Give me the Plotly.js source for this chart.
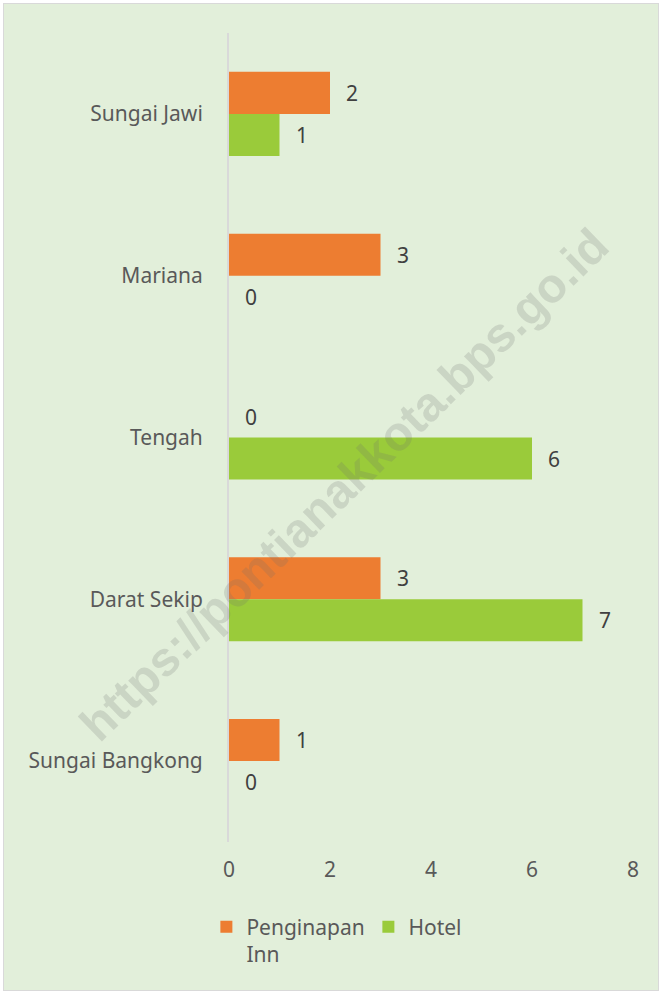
<!DOCTYPE html>
<html><head><meta charset="utf-8">
<script src="https://cdn.plot.ly/plotly-3.0.1.min.js"></script>
<style>
html,body{margin:0;padding:0;background:#fff;}
#wrap{position:absolute;left:3px;top:3px;width:654px;height:986px;border:1px solid #d9d9d9;background:#e2efda;}
#chart{width:654px;height:986px;}
</style></head>
<body><div id="wrap"><div id="chart"></div></div>
<script>
const categories = ["Sungai Jawi", "Mariana", "Tengah", "Darat Sekip", "Sungai Bangkong"];
const innValues = [2, 3, 0, 3, 1];
const hotelValues = [1, 0, 6, 7, 0];
const seriesNames = ["Penginapan<br>Inn", "Hotel"];
const xTicks = [0, 2, 4, 6, 8];
const watermark = "https://pontianakkota.bps.go.id";

const orange = "#ed7d31", green = "#9acb3a";
const font = "Noto Sans, Open Sans, sans-serif";
const fs = 21;

const traces = [
  {type:"bar", orientation:"h", name:seriesNames[0], y:categories, x:innValues,
   marker:{color:orange, line:{width:0}}, hoverinfo:"none"},
  {type:"bar", orientation:"h", name:seriesNames[1], y:categories, x:hotelValues,
   marker:{color:green, line:{width:0}}, hoverinfo:"none"}
];

const ann = [];
categories.forEach((c,i)=>{
  ann.push({x:innValues[i], y:c, xref:"x", yref:"y", text:String(innValues[i]), showarrow:false,
    xanchor:"left", xshift:14, yshift:21, font:{family:font, size:fs, color:"#404040"}});
  ann.push({x:hotelValues[i], y:c, xref:"x", yref:"y", text:String(hotelValues[i]), showarrow:false,
    xanchor:"left", xshift:14, yshift:-21, font:{family:font, size:fs, color:"#404040"}});
});
ann.push({x:0.285, y:0.442, xref:"paper", yref:"paper", xanchor:"center", yanchor:"middle",
  text:watermark, showarrow:false,
  textangle:-44, font:{family:"Liberation Sans, Arial, sans-serif", size:48, color:"rgba(110,110,110,0.2)", weight:"bold"}});

const layout = {
  width:654, height:986,
  margin:{l:225, r:25, t:29, b:148, pad:0},
  paper_bgcolor:"rgba(0,0,0,0)", plot_bgcolor:"rgba(0,0,0,0)",
  barmode:"group", bargap:0.48, bargroupgap:0,
  showlegend:true,
  font:{family:font, size:fs, color:"#595959"},
  xaxis:{range:[0,8], tickvals:xTicks, ticktext:xTicks.map(String), showgrid:false, zeroline:false,
    showline:false, ticks:"", ticklabelstandoff:13, tickfont:{family:font, size:fs, color:"#595959"}, fixedrange:true},
  yaxis:{type:"category", categoryorder:"array", categoryarray:categories, autorange:"reversed",
    showgrid:false, zeroline:false, showline:true, linecolor:"#d9d9d9", linewidth:2, ticks:"",
    ticklabelstandoff:20, tickfont:{family:font, size:fs, color:"#595959"}, fixedrange:true},
  legend:{orientation:"h", x:-0.056, xanchor:"left", y:-0.08, yanchor:"top", valign:"top",
    font:{family:font, size:fs, color:"#595959"}, bgcolor:"rgba(0,0,0,0)",
    entrywidth:117, entrywidthmode:"pixels", itemclick:false},
  annotations:ann
};
Plotly.newPlot("chart", traces, layout, {displayModeBar:false, staticPlot:true});
</script></body></html>
